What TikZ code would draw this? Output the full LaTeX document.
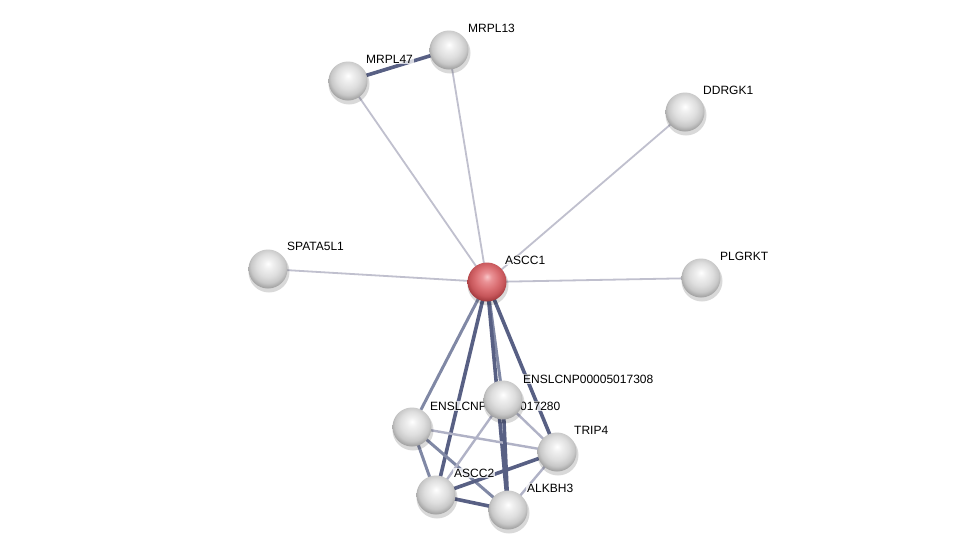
\documentclass[tikz,border=0pt]{standalone}
\usepackage{fontspec}
\setmainfont{Liberation Sans}
\pgfdeclarelayer{bg}
\pgfdeclarelayer{edges}
\pgfdeclarelayer{labels}
\pgfsetlayers{bg,edges,labels,main}
\definecolor{edark}{RGB}{88,96,132}
\definecolor{emid}{RGB}{128,136,165}
\definecolor{elight}{RGB}{176,178,198}
\definecolor{eperi}{RGB}{192,192,206}
\definecolor{g0}{RGB}{255,255,255}
\definecolor{g1}{RGB}{240,240,240}
\definecolor{g2}{RGB}{222,222,222}
\definecolor{g3}{RGB}{200,200,200}
\definecolor{g4}{RGB}{165,165,165}
\definecolor{g5}{RGB}{125,125,125}
\definecolor{r0}{RGB}{248,196,198}
\definecolor{r1}{RGB}{234,146,150}
\definecolor{r2}{RGB}{218,110,114}
\definecolor{r3}{RGB}{198,86,90}
\definecolor{r4}{RGB}{165,60,64}
\definecolor{r5}{RGB}{125,38,42}
\pgfdeclareradialshading{gsphere}{\pgfpoint{0bp}{7bp}}{%
  color(0bp)=(g0); color(6bp)=(g1); color(15bp)=(g2);
  color(22bp)=(g3); color(27bp)=(g4); color(32bp)=(g5); color(50bp)=(g5)}
\pgfdeclareradialshading{rsphere}{\pgfpoint{0bp}{7bp}}{%
  color(0bp)=(r0); color(6bp)=(r1); color(15bp)=(r2);
  color(22bp)=(r3); color(27bp)=(r4); color(32bp)=(r5); color(50bp)=(r5)}
\tikzset{
  prot/.style={circle, minimum size=39pt, inner sep=0pt, shading=gsphere},
  query/.style={circle, minimum size=39pt, inner sep=0pt, shading=rsphere},
  shadowc/.style={fill=black, fill opacity=0.15},
  lab/.style={anchor=west, font=\fontsize{12}{14}\selectfont, fill=white, fill opacity=0.75, text opacity=1, inner sep=1pt},
  wdark/.style={draw=edark, line width=3.6pt},
  wmid/.style={draw=emid, line width=3pt},
  wlight/.style={draw=elight, line width=2.4pt},
  wperi/.style={draw=eperi, line width=1.8pt},
}
\begin{document}
\begin{tikzpicture}[x=1pt,y=-1pt]
\begin{pgfonlayer}{bg}
\fill[white] (0,0) rectangle (975,555);
\end{pgfonlayer}
\useasboundingbox (0,0) rectangle (975,555);
% shadows
\foreach \px/\py in {449/50,348/81,685/112,268/269,487/282,701/278,503/400,412/427,557/452,436/495,508/510}{
  \fill[shadowc] (\px+1,\py+3) circle (20.5pt);
}
% nodes
\node[prot] (MRPL13) at (449,50) {};
\node[prot] (MRPL47) at (348,81) {};
\node[prot] (DDRGK1) at (685,112) {};
\node[prot] (SPATA) at (268,269) {};
\node[query] (ASCC1) at (487,282) {};
\node[prot] (PLGRKT) at (701,278) {};
\node[prot] (E308) at (503,400) {};
\node[prot] (E280) at (412,427) {};
\node[prot] (TRIP4) at (557,452) {};
\node[prot] (ASCC2) at (436,495) {};
\node[prot] (ALKBH3) at (508,510) {};
% labels
\begin{pgfonlayer}{labels}
\node[lab] (lMRPL13) at ([shift={(18,-22)}]MRPL13.center) {MRPL13};
\node[lab] (lMRPL47) at ([shift={(17,-22)}]MRPL47.center) {MRPL47};
\node[lab] (lDDRGK1) at ([shift={(17,-22)}]DDRGK1.center) {DDRGK1};
\node[lab] (lSPATA) at ([shift={(18,-23)}]SPATA.center) {SPATA5L1};
\node[lab] (lASCC1) at ([shift={(17,-22)}]ASCC1.center) {ASCC1};
\node[lab] (lPLGRKT) at ([shift={(18,-22)}]PLGRKT.center) {PLGRKT};
\node[lab] (lE308) at ([shift={(19,-21)}]E308.center) {ENSLCNP00005017308};
\node[lab] (lE280) at ([shift={(17,-21)}]E280.center) {ENSLCNP00005017280};
\node[lab] (lTRIP4) at ([shift={(16,-22)}]TRIP4.center) {TRIP4};
\node[lab] (lASCC2) at ([shift={(17,-22)}]ASCC2.center) {ASCC2};
\node[lab] (lALKBH3) at ([shift={(18,-22)}]ALKBH3.center) {ALKBH3};
\end{pgfonlayer}
% edges
\begin{pgfonlayer}{edges}
\draw[wperi] (ASCC1.center) -- (MRPL47.center);
\draw[wperi] (ASCC1.center) -- (MRPL13.center);
\draw[wperi] (ASCC1.center) -- (DDRGK1.center);
\draw[wperi] (ASCC1.center) -- (SPATA.center);
\draw[wperi] (ASCC1.center) -- (PLGRKT.center);
\draw[wdark] (MRPL47.center) -- (MRPL13.center);
\draw[wmid] (ASCC1.center) -- (E280.center);
\draw[wdark] (ASCC1.center) -- (ASCC2.center);
\draw[wmid] (ASCC1.center) -- (E308.center);
\draw[wdark] (ASCC1.center) -- (ALKBH3.center);
\draw[wdark] (ASCC1.center) -- (TRIP4.center);
\draw[wlight] (E280.center) -- (TRIP4.center);
\draw[wmid] (E280.center) -- (ASCC2.center);
\draw[wmid] (E280.center) -- (ALKBH3.center);
\draw[wlight] (E308.center) -- (ASCC2.center);
\draw[wlight] (E308.center) -- (TRIP4.center);
\draw[wdark] (E308.center) -- (ALKBH3.center);
\draw[wdark] (ASCC2.center) -- (TRIP4.center);
\draw[wdark] (ASCC2.center) -- (ALKBH3.center);
\draw[wlight] (ALKBH3.center) -- (TRIP4.center);
\end{pgfonlayer}
\end{tikzpicture}
\end{document}
